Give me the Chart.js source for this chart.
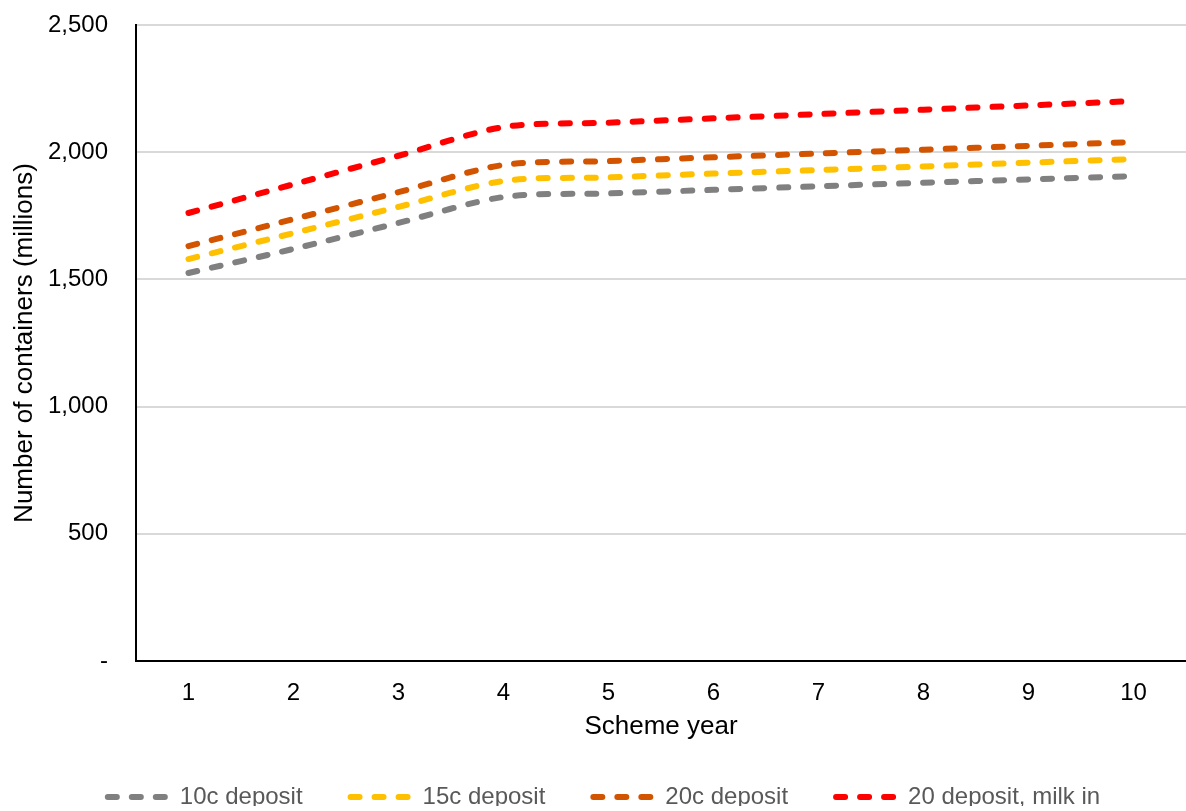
<!DOCTYPE html>
<html>
<head>
<meta charset="utf-8">
<title>Containers returned by scheme year</title>
<script src="https://cdn.jsdelivr.net/npm/chart.js@4/dist/chart.umd.min.js"></script>
<style>
  html, body { margin: 0; padding: 0; background: #ffffff; overflow: hidden; }
  #wrap { width: 1186px; height: 811px; position: relative; }
</style>
</head>
<body>
<div id="wrap"><canvas id="chart"></canvas></div>
<script>
// Scheme years along the x axis
const schemeYears = ['1', '2', '3', '4', '5', '6', '7', '8', '9', '10'];

// Containers (millions) per deposit scenario
const deposit10c = [1525, 1620, 1722, 1824, 1838, 1852, 1866, 1880, 1893, 1906];
const deposit15c = [1580, 1682, 1785, 1887, 1901, 1916, 1930, 1944, 1959, 1973];
const deposit20c = [1631, 1737, 1843, 1950, 1965, 1980, 1995, 2010, 2025, 2040];
const deposit20Milk = [1761, 1874, 1986, 2099, 2116, 2133, 2150, 2167, 2184, 2201];

// Y axis tick values
const yTickValues = [0, 500, 1000, 1500, 2000, 2500];

const seriesNames = ['10c deposit', '15c deposit', '20c deposit', '20 deposit, milk in'];
const seriesColours = ['#808080', '#FFC000', '#D35400', '#FF0000'];
const seriesValues = [deposit10c, deposit15c, deposit20c, deposit20Milk];

const FONT = 'Arial, "Liberation Sans", Helvetica, sans-serif';
const LINE_WIDTH = 6;
const LINE_DASH = [9, 15];

function dashedSeries(i) {
  return {
    label: seriesNames[i],
    data: seriesValues[i],
    borderColor: seriesColours[i],
    backgroundColor: seriesColours[i],
    borderWidth: LINE_WIDTH,
    borderDash: LINE_DASH,
    borderCapStyle: 'round',
    borderJoinStyle: 'round',
    pointRadius: 0,
    pointHoverRadius: 0,
    tension: 0.3,
    fill: false
  };
}

// Legend entries drawn as short dashed strokes in each series colour
function dashedLegendLabels(chart) {
  const items = Chart.defaults.plugins.legend.labels.generateLabels(chart);
  return items.map(item => {
    const ds = chart.data.datasets[item.datasetIndex];
    return Object.assign(item, {
      strokeStyle: ds.borderColor,
      fillStyle: ds.borderColor,
      lineWidth: ds.borderWidth,
      lineDash: ds.borderDash,
      lineDashOffset: 0,
      lineCap: 'round',
      pointStyle: 'line'
    });
  });
}

// Keeps the legend row compact and nudges it into place
const LEGEND_HEIGHT = 69;
const legendPlacement = {
  id: 'legendPlacement',
  beforeLayout(chart) {
    const lg = chart.legend;
    if (!lg || lg._fitWrapped) return;
    const baseFit = lg.fit.bind(lg);
    lg.fit = function () {
      baseFit();
      this.height = LEGEND_HEIGHT;
    };
    lg._fitWrapped = true;
  },
  afterLayout(chart) {
    const lg = chart.legend;
    if (!lg) return;
    const dx = 11, dy = -5;
    lg.left += dx; lg.right += dx;
    lg.top += dy; lg.bottom += dy;
  }
};

new Chart(document.getElementById('chart'), {
  type: 'line',
  data: {
    labels: schemeYears,
    datasets: [0, 1, 2, 3].map(dashedSeries)
  },
  plugins: [legendPlacement],
  options: {
    responsive: true,
    maintainAspectRatio: false,
    animation: false,
    events: [],
    layout: { padding: { top: 25, right: 0, bottom: 0, left: 0 } },
    plugins: {
      tooltip: { enabled: false },
      legend: {
        position: 'bottom',
        align: 'center',
        labels: {
          usePointStyle: true,
          pointStyle: 'line',
          pointStyleWidth: 60,
          padding: 48,
          color: '#595959',
          font: { family: FONT, size: 24 },
          generateLabels: dashedLegendLabels
        }
      }
    },
    scales: {
      x: {
        type: 'category',
        offset: true,
        afterFit(scale) { scale.height = 81; },
        grid: { display: false, drawTicks: false },
        border: { display: true, color: '#000000', width: 2 },
        ticks: {
          color: '#000000',
          padding: 18,
          font: { family: FONT, size: 24 },
          maxRotation: 0
        },
        title: {
          display: true,
          text: 'Scheme year',
          color: '#000000',
          font: { family: FONT, size: 26 },
          padding: { top: 6, bottom: 0 }
        }
      },
      y: {
        min: 0,
        max: 2500,
        afterFit(scale) {
          scale.width = 136;
          scale.paddingTop = 0;
        },
        afterBuildTicks(scale) {
          scale.ticks = yTickValues.map(v => ({ value: v }));
        },
        grid: { color: '#D9D9D9', lineWidth: 2, drawTicks: false },
        border: { display: true, color: '#000000', width: 2 },
        ticks: {
          color: '#000000',
          padding: 28,
          font: { family: FONT, size: 24 },
          callback: v => v === 0 ? '-' : v.toLocaleString('en-US')
        },
        title: {
          display: true,
          text: 'Number of containers (millions)',
          color: '#000000',
          font: { family: FONT, size: 26 },
          padding: { top: 9, bottom: 8 }
        }
      }
    }
  }
});
</script>
</body>
</html>
